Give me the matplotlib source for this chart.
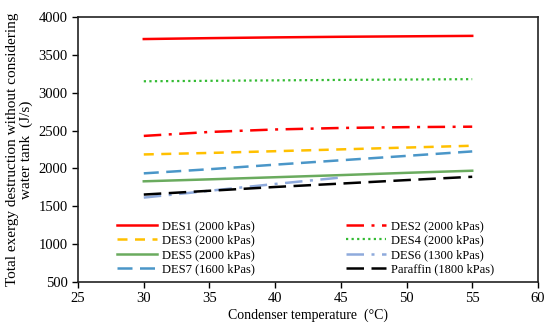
import matplotlib
matplotlib.use("Agg")
import matplotlib.pyplot as plt

plt.rcParams['font.family'] = ['Liberation Serif', 'DejaVu Serif']

# condenser temperature (C)
temp = [30, 35, 40, 45, 50, 55]
temp_des6 = [30, 35, 40, 45]

des1 = [3710, 3722, 3732, 3740, 3746, 3752]
des2 = [2430, 2482, 2515, 2535, 2546, 2552]
des3 = [2185, 2205, 2228, 2252, 2276, 2300]
des4 = [3152, 3158, 3164, 3170, 3175, 3180]
des5 = [1830, 1856, 1884, 1912, 1942, 1970]
des6 = [1615, 1705, 1795, 1880]
des7 = [1935, 1990, 2050, 2108, 2166, 2225]
paraffin = [1655, 1705, 1755, 1800, 1846, 1890]

fig = plt.figure(figsize=(5.5, 3.29), dpi=100)
ax = fig.add_axes([0.142, 0.143, 0.836, 0.805])

l1, = ax.plot(temp, des1, color='#FF0000', lw=1.8, label='DES1 (2000 kPas)')
l2, = ax.plot(temp, des2, color='#FF0000', lw=1.8, dashes=[7, 3, 1.2, 3],
              label='DES2 (2000 kPas)')
l3, = ax.plot(temp, des3, color='#FFC000', lw=1.8, dashes=[4, 3],
              label='DES3 (2000 kPas)')
l4, = ax.plot(temp, des4, color='#33BB33', lw=1.6, dashes=[1, 1.5],
              label='DES4 (2000 kPas)')
l5, = ax.plot(temp, des5, color='#6AAB5E', lw=1.8, label='DES5 (2000 kPas)')
l6, = ax.plot(temp_des6, des6, color='#8FAADC', lw=1.8, dashes=[7, 3, 1.2, 3],
              label='DES6 (1300 kPas)')
l7, = ax.plot(temp, des7, color='#4A96C8', lw=1.8, dashes=[6, 3],
              label='DES7 (1600 kPas)')
l8, = ax.plot(temp, paraffin, color='black', lw=1.8, dashes=[7, 3],
              label='Paraffin (1800 kPas)')

ax.set_xlim(25, 60)
ax.set_ylim(500, 4000)
ax.set_xticks(range(25, 61, 5))
ax.set_yticks(range(500, 4001, 500))
ax.tick_params(labelsize=10.5, direction='out', length=4, width=1, colors='black')
for s in ax.spines.values():
    s.set_linewidth(1.2)
    s.set_color('#222222')

ax.set_xlabel('Condenser temperature  (\u00b0C)', fontsize=10, labelpad=2)
ax.set_ylabel('Total exergy destruction without considering\nwater tank  (J/s)',
              fontsize=11, linespacing=1.0, labelpad=4)

ax.legend(handles=[l1, l3, l5, l7, l2, l4, l6, l8], ncol=2, frameon=False,
          loc='lower center', bbox_to_anchor=(0.495, -0.005), fontsize=9,
          handlelength=3.2, handletextpad=0.4, columnspacing=7.3,
          labelspacing=0.2, borderaxespad=0.2)

fig.savefig('out.png', dpi=100)
